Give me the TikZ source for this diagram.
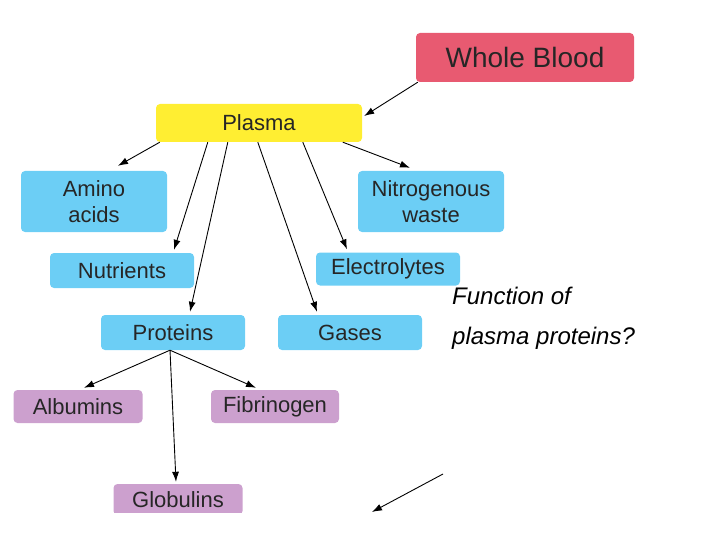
\documentclass[tikz,border=0pt]{standalone}
\usepackage{fontspec}
\setmainfont{Liberation Sans}
\usepackage{xcolor}
\usetikzlibrary{arrows.meta,calc}
\definecolor{bloodred}{RGB}{232,90,113}
\definecolor{plasmayel}{RGB}{255,238,50}
\definecolor{compblue}{RGB}{108,206,245}
\definecolor{protpurp}{RGB}{204,160,206}
\tikzset{
  box/.style={rectangle, rounded corners=4pt, inner sep=0pt, text=black!85, font=\fontsize{22}{26}\selectfont, align=center},
  link/.style={-{Latex[length=10pt,width=7pt]}, line width=0.9pt}
}
\begin{document}
\begin{tikzpicture}[x=1pt,y=-1pt]
        \useasboundingbox (0,0) rectangle (720,540);
        \node[box, fill=bloodred, minimum width=218pt, minimum height=49pt, font=\fontsize{28}{30}\selectfont] at (525,57.5) (blood) {Whole Blood};
        \node[box, fill=plasmayel, minimum width=206pt, minimum height=38pt] at (259,123) (plasma) {Plasma};
        \node[box, fill=compblue, minimum width=146pt, minimum height=61pt] at (94,201.5) (amino) {Amino\\acids};
        \node[box, fill=compblue, minimum width=146pt, minimum height=61pt] at (431,201.5) (nitro) {Nitrogenous\\waste};
        \node[box, fill=compblue, minimum width=144pt, minimum height=35pt] at (122,270.5) (nutri) {Nutrients};
        \node[box, fill=compblue, minimum width=144pt, minimum height=33pt] at (388,269) (electro) {Electrolytes};
        \node[box, fill=compblue, minimum width=144pt, minimum height=35pt] at (173,332.5) (prot) {Proteins};
        \node[box, fill=compblue, minimum width=144pt, minimum height=35pt] at (350,332.5) (gases) {Gases};
        \node[box, fill=protpurp, minimum width=129pt, minimum height=33pt] at (78,406.5) (album) {Albumins};
        \node[box, fill=protpurp, minimum width=128pt, minimum height=33pt] at (275,406.5) (fibri) {Fibrinogen};
        \node[box, fill=protpurp, minimum width=129pt, minimum height=31pt] at (178,499.5) (glob) {Globulins};
        \fill[white] (0,513) rectangle (720,540);
        \node[anchor=north west, align=left, font=\fontsize{24}{40}\selectfont\itshape, inner sep=0pt] at (452,287) (question) {Function of\\plasma proteins?};
        \coordinate (stray) at (443,474);
        \coordinate (strayend) at (372,512);
        \draw [link] ($(blood.south west)+(2,0)$) -- ($(plasma.east)+(2,-7)$);
        \draw [link] ($(plasma.south west)+(4,0)$) -- ($(amino.north)+(24,-5)$);
        \draw [link] ($(plasma.south west)+(52,0)$) -- ($(nutri.north)+(52,-3)$);
        \draw [link] ($(plasma.south west)+(72,0)$) -- ($(prot.north)+(17,-3)$);
        \draw [link] ($(plasma.south west)+(102,0)$) -- ($(gases.north)+(-33,-3)$);
        \draw [link] ($(plasma.south west)+(147,0)$) -- ($(electro.north)+(-41,-3)$);
        \draw [link] ($(plasma.south west)+(187,0)$) -- ($(nitro.north)+(-21,-3)$);
        \draw [link] ($(prot.south)+(-3,0)$) -- ($(album.north)+(6,-2)$);
        \draw [link] ($(prot.south)+(-3,0)$) -- ($(glob.north)+(-2,-2)$);
        \draw [link] ($(prot.south)+(-3,0)$) -- ($(fibri.north)+(-19,-2)$);
        \draw [link] (stray) -- (strayend);
    \end{tikzpicture}
\end{document}
